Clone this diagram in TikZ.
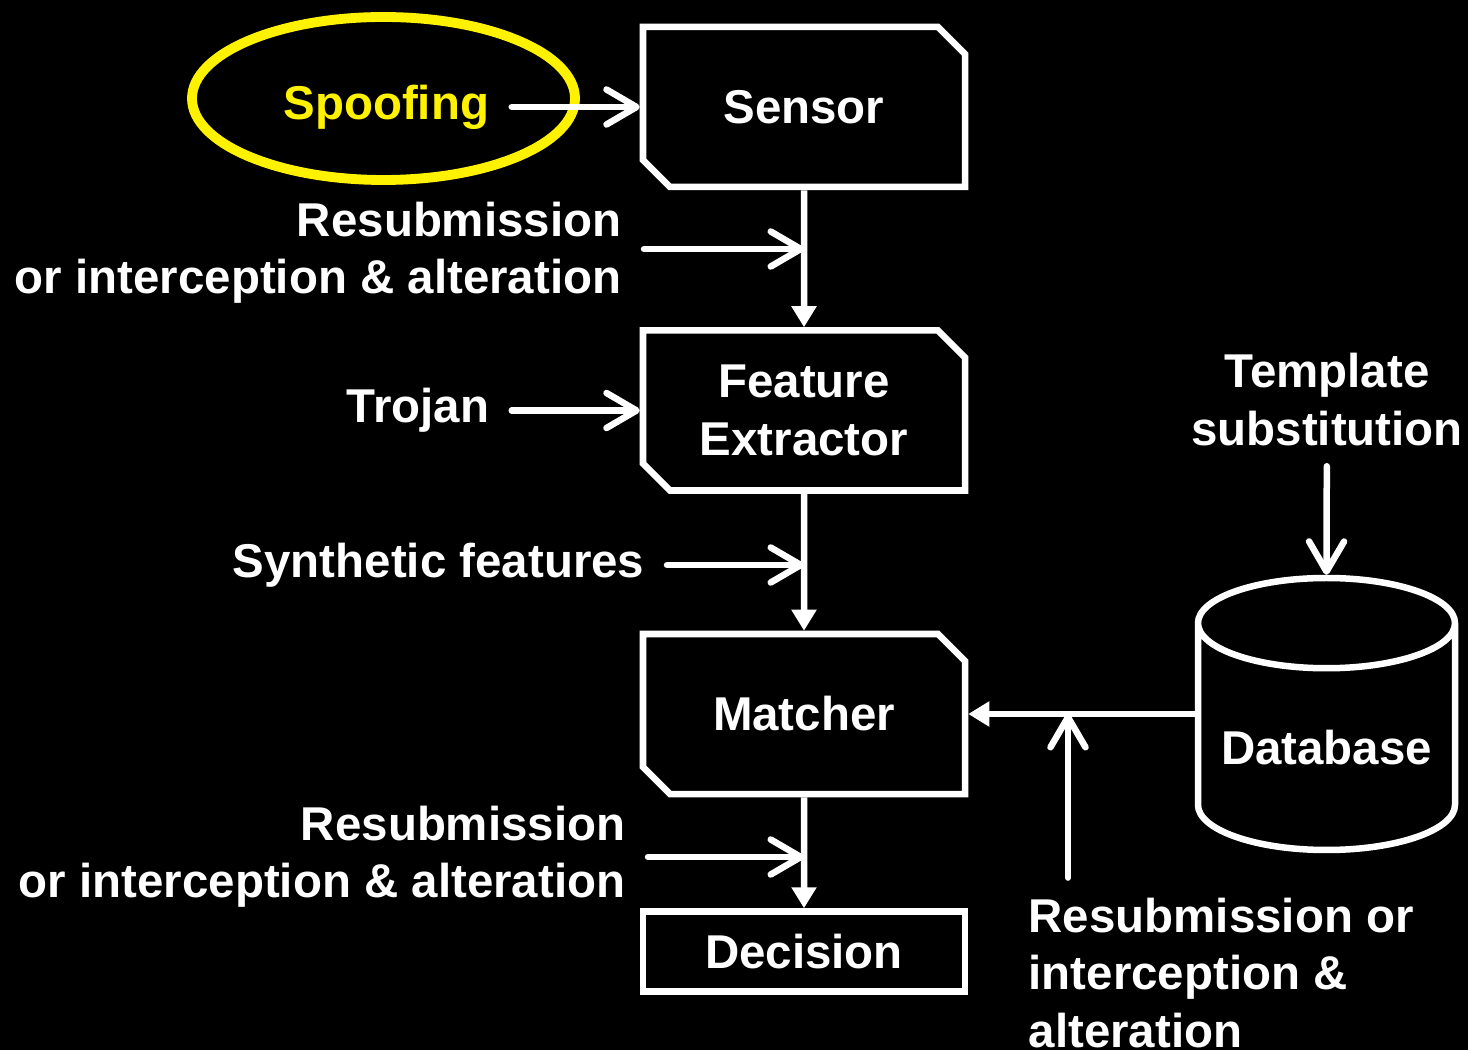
\documentclass[tikz,border=0pt]{standalone}
\usepackage{fontspec}
\setmainfont{Liberation Sans}
\usetikzlibrary{positioning,shapes.misc,shapes.geometric,arrows.meta}
\newcommand\diagfont{\fontsize{13.5}{16.3}\selectfont\bfseries}

\begin{document}
\begin{tikzpicture}
  [box node/.style={chamfered rectangle, chamfered rectangle corners={north east,south west},
     chamfered rectangle xsep=0.135cm, chamfered rectangle ysep=0.135cm, inner sep=2pt,
     draw=white, line width=1.85pt, text=white, font=\diagfont, align=center,
     minimum width=3.22cm, minimum height=1.6cm},
   text node/.style={text=white, font=\diagfont, inner xsep=0.22cm, inner ysep=0.2cm},
   flow edge/.style={draw=white, line width=1.85pt, -{Triangle[length=0.21cm,width=0.24cm]}},
   attack edge/.style={draw=white, line width=1.85pt, line cap=round,
     -{Straight Barb[length=0.3cm,width=0.35cm,round]}}]

\fill[black] (0,0) rectangle (14.68,10.5);
\useasboundingbox (0,0) rectangle (14.68,10.5);

% processing chain
\node[box node] (sensor) at (8.04,9.43) {Sensor};
\node[box node] (fe) [below=1.37cm of sensor] {Feature\\Extractor};
\node[box node] (matcher) [below=1.37cm of fe] {Matcher};
\node[draw=white, line width=1.85pt, text=white, font=\diagfont,
  minimum width=3.22cm, minimum height=0.8cm] (decision) [below=1.11cm of matcher] {Decision};
\node[cylinder, shape border rotate=90, aspect=0.385, draw=white, line width=1.85pt,
  text=white, font=\diagfont, minimum width=2.57cm, minimum height=2.72cm,
  anchor=shape center] (db) at (13.265,3.36) {Database};

% attack points
\node[text node, text=yellow] (spoof) [left=1.28cm of sensor] {Spoofing};
\node[ellipse, draw=yellow, line width=2.8pt, minimum width=3.83cm, minimum height=1.63cm]
  (ring) at (3.835,9.515) {};
\node[text node, align=right, anchor=east] (resub1) at (6.44,7.97)
  {Resubmission\\or interception \& alteration};
\node[text node] (trojan) [left=1.28cm of fe] {Trojan};
\node[text node, anchor=east] (synth) at (6.67,4.85) {Synthetic features};
\node[text node, align=right, anchor=east] (resub2) at (6.48,1.93)
  {Resubmission\\or interception \& alteration};
\node[text node, align=center] (tmpl) at (13.27,6.505) {Template\\substitution};
\node[text node, align=left, anchor=west] (resub3) at (10.06,0.77)
  {Resubmission or\\interception \&\\alteration};
\coordinate (hit) at (10.68,3.36);

\path
  (sensor) edge [flow edge] (fe)
  (fe) edge [flow edge] (matcher)
  (matcher) edge [flow edge] (decision)
  (db.shape center -| db.west) edge [flow edge] (db.shape center -| matcher.east);

\path
  (spoof) edge [attack edge] (spoof -| sensor.west)
  ([yshift=0.04cm]resub1.east) edge [attack edge] ([yshift=0.04cm]resub1.east -| sensor.south)
  (trojan) edge [attack edge] (trojan -| fe.west)
  (synth.east) edge [attack edge] (synth.east -| fe.south)
  (resub2.east) edge [attack edge] (resub2.east -| matcher.south)
  (tmpl) edge [attack edge] (db.north)
  (hit |- resub3.north) edge [attack edge] (hit);

\end{tikzpicture}
\end{document}
